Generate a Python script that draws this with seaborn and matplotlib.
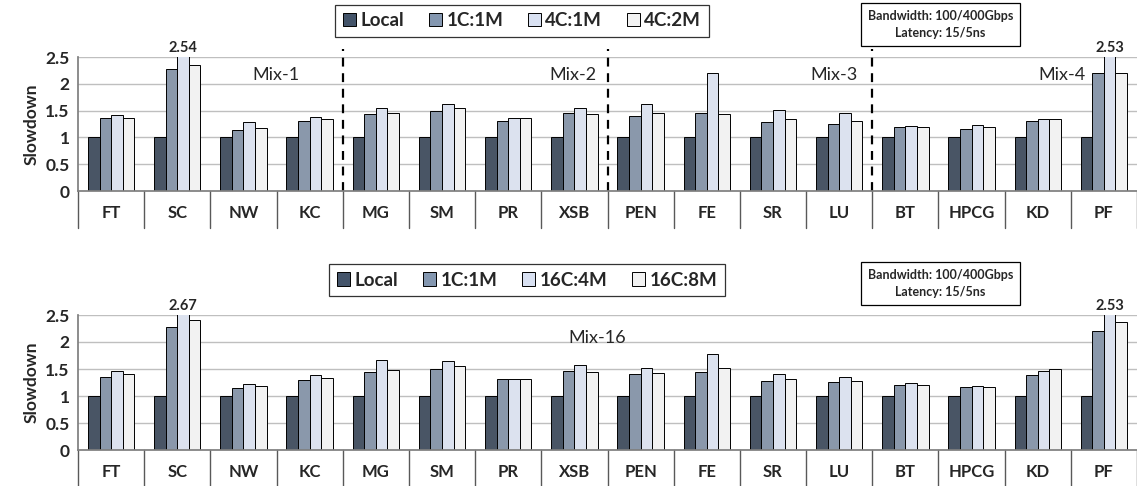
import numpy as np
import pandas as pd
import matplotlib
matplotlib.use("Agg")
import matplotlib.pyplot as plt
from matplotlib.ticker import FuncFormatter, MultipleLocator
import seaborn as sns

sns.set_theme(style="white")
plt.rcParams['font.family'] = ['Lato', 'DejaVu Sans']

benchmarks = ["FT", "SC", "NW", "KC", "MG", "SM", "PR", "XSB",
              "PEN", "FE", "SR", "LU", "BT", "HPCG", "KD", "PF"]

# top panel: 4 mixes of 4 benchmarks
top_configs = ["Local", "1C:1M", "4C:1M", "4C:2M"]
top_local = [1, 1, 1, 1, 1, 1, 1, 1, 1, 1, 1, 1, 1, 1, 1, 1]
top_1c1m = [1.36, 2.27, 1.13, 1.30, 1.44, 1.49, 1.31, 1.46,
            1.39, 1.45, 1.28, 1.25, 1.20, 1.16, 1.31, 2.21]
top_4c1m = [1.41, 2.54, 1.29, 1.38, 1.54, 1.62, 1.36, 1.54,
            1.62, 2.21, 1.51, 1.46, 1.22, 1.24, 1.34, 2.53]
top_4c2m = [1.37, 2.36, 1.18, 1.34, 1.46, 1.54, 1.36, 1.43,
            1.45, 1.43, 1.34, 1.31, 1.20, 1.19, 1.34, 2.21]

# bottom panel: one mix of 16
bot_configs = ["Local", "1C:1M", "16C:4M", "16C:8M"]
bot_local = [1, 1, 1, 1, 1, 1, 1, 1, 1, 1, 1, 1, 1, 1, 1, 1]
bot_1c1m = [1.36, 2.27, 1.14, 1.30, 1.45, 1.50, 1.32, 1.47,
            1.40, 1.45, 1.28, 1.26, 1.20, 1.16, 1.38, 2.21]
bot_16c4m = [1.47, 2.67, 1.22, 1.38, 1.66, 1.64, 1.32, 1.57,
             1.51, 1.77, 1.40, 1.36, 1.24, 1.18, 1.47, 2.53]
bot_16c8m = [1.40, 2.40, 1.18, 1.34, 1.49, 1.55, 1.32, 1.45,
             1.42, 1.51, 1.32, 1.28, 1.20, 1.17, 1.50, 2.37]

colors = ["#44546A", "#8497B0", "#D9E1F2", "#F2F2F2"]
YMAX = 2.5


def make_df(configs, series):
    rows = []
    for cfg, vals in zip(configs, series):
        for b, v in zip(benchmarks, vals):
            rows.append({"bench": b, "config": cfg, "slowdown": v})
    return pd.DataFrame(rows)


def draw_panel(ax, df, configs, legend_center, mix_labels, dashed):
    sns.barplot(data=df, x="bench", y="slowdown", hue="config", order=benchmarks,
                hue_order=configs, palette=colors, edgecolor="black", linewidth=0.7,
                width=0.7, ax=ax, legend=False)
    ax.set_ylim(0, YMAX)
    ax.set_xlim(-0.5, len(benchmarks) - 0.5)
    ax.yaxis.set_major_locator(MultipleLocator(0.5))
    ax.yaxis.set_major_formatter(FuncFormatter(lambda v, p: f"{v:g}"))
    ax.grid(axis="y", color="#BFBFBF", linewidth=1)
    ax.set_axisbelow(True)
    for s in ["top", "right"]:
        ax.spines[s].set_visible(False)
    ax.spines["left"].set_color("#7F7F7F")
    ax.spines["bottom"].set_color("#7F7F7F")
    ax.set_xlabel("")
    ax.set_ylabel("Slowdown", fontsize=12.5, fontweight="bold", labelpad=4)
    ax.tick_params(axis="y", labelsize=12.5, length=0, pad=6)
    ax.tick_params(axis="x", labelsize=12, length=0, pad=10)
    for lab in ax.get_xticklabels() + ax.get_yticklabels():
        lab.set_fontweight("bold")

    # category table separators below the axis
    for i in range(len(benchmarks) + 1):
        ax.plot([i - 0.5, i - 0.5], [0, -0.69], color="#595959", lw=1, clip_on=False)

    # dashed mix boundaries
    for xb in dashed:
        ax.plot([xb, xb], [0, 2.64], color="black", lw=1.6, ls=(0, (4, 3)), clip_on=False)

    for x, y, txt, ha in mix_labels:
        ax.text(x, y, txt, ha=ha, va="center", fontsize=13)

    # label bars clipped by the axis limit
    for cont in ax.containers:
        for bar in cont:
            h = bar.get_height()
            if h > YMAX:
                ax.text(bar.get_x() + bar.get_width() / 2, YMAX + 0.03, f"{h:.2f}",
                        ha="center", va="bottom", fontsize=10.5, fontweight="bold")

    handles = [plt.Rectangle((0, 0), 1, 1, facecolor=c, edgecolor="black", lw=0.7)
               for c in colors]
    leg = ax.figure.legend(handles, configs, ncol=4, loc="center",
                           bbox_to_anchor=legend_center, frameon=True, fancybox=False,
                           edgecolor="black", fontsize=13.5, handlelength=0.7,
                           handleheight=0.7, handletextpad=0.25, columnspacing=1.3,
                           borderpad=0.4)
    leg.get_frame().set_linewidth(0.9)
    for t in leg.get_texts():
        t.set_fontweight("bold")


fig = plt.figure(figsize=(11.37, 4.86), dpi=100)
ax_top = fig.add_axes([78 / 1137, 295 / 486, 1059 / 1137, 134 / 486])
ax_bot = fig.add_axes([78 / 1137, 36 / 486, 1059 / 1137, 135 / 486])

df_top = make_df(top_configs, [top_local, top_1c1m, top_4c1m, top_4c2m])
df_bot = make_df(bot_configs, [bot_local, bot_1c1m, bot_16c4m, bot_16c8m])

draw_panel(ax_top, df_top, top_configs, (522 / 1137, 1 - 21 / 486),
           [(2.85, 2.17, "Mix-1", "right"), (7.33, 2.17, "Mix-2", "right"),
            (11.28, 2.17, "Mix-3", "right"), (14.72, 2.17, "Mix-4", "right")],
           [3.5, 7.5, 11.5])
draw_panel(ax_bot, df_bot, bot_configs, (527 / 1137, 1 - 280 / 486),
           [(7.34, 2.08, "Mix-16", "center")], [])

for yc in [24.5 / 486, 283.5 / 486]:
    fig.text(940.5 / 1137, 1 - yc, "Bandwidth: 100/400Gbps\nLatency: 15/5ns",
             ha="center", va="center", fontsize=9, fontweight="bold", linespacing=1.5,
             bbox=dict(boxstyle="square,pad=0.55", facecolor="white", edgecolor="black", lw=0.9))

fig.savefig("out.png", dpi=100)
